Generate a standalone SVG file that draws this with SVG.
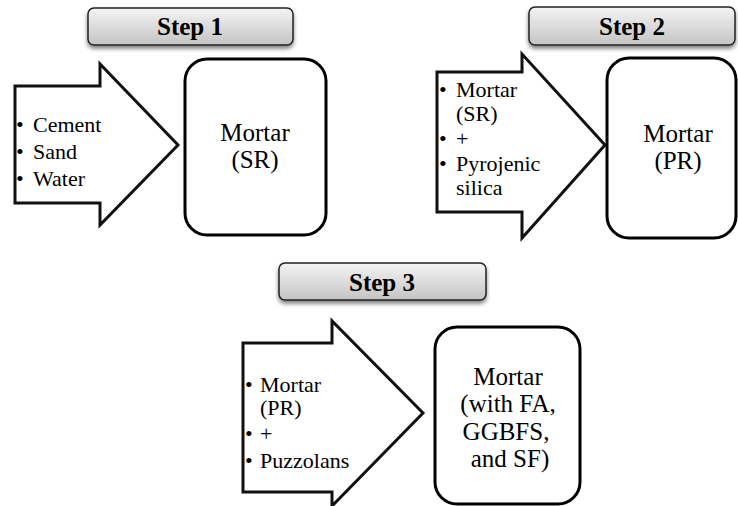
<svg xmlns="http://www.w3.org/2000/svg" id="d" width="738" height="506" viewBox="0 0 738 506" font-family="Liberation Serif, serif">
<defs>
<linearGradient id="g" x1="0" y1="0" x2="0" y2="1">
<stop offset="0" stop-color="#f4f4f4"/>
<stop offset="1" stop-color="#c4c4c4"/>
</linearGradient>
<filter id="sh" x="-10%" y="-30%" width="120%" height="180%">
<feGaussianBlur in="SourceAlpha" stdDeviation="2"/>
<feOffset dx="0" dy="3"/>
<feComponentTransfer><feFuncA type="linear" slope="0.5"/></feComponentTransfer>
<feMerge><feMergeNode/><feMergeNode in="SourceGraphic"/></feMerge>
</filter>
</defs>
<style>
svg#d g text, svg#d text, text { font-family: 'Liberation Serif', 'Times New Roman', serif !important; }
.step{fill:url(#g);stroke:#222;stroke-width:1.5;filter:url(#sh)}
.arr{fill:#fff;stroke:#111;stroke-width:3}
.box{fill:#fff;stroke:#000;stroke-width:3}
.st{font-weight:bold;font-size:25px;text-anchor:middle}
.t{font-size:22px}
.bt{font-size:25px;text-anchor:middle}
</style>
<rect width="738" height="506" fill="#fff"/>
<g id="step1"><rect class="step" x="88" y="8" width="205" height="37" rx="6"/><text class="st" font-family="Liberation Serif" x="190" y="35">Step 1</text></g>
<g id="step2"><rect class="step" x="529" y="7" width="206" height="38" rx="6"/><text class="st" font-family="Liberation Serif" x="632" y="35">Step 2</text></g>
<g id="step3"><rect class="step" x="279" y="263" width="207" height="37" rx="6"/><text class="st" font-family="Liberation Serif" x="382" y="291">Step 3</text></g>
<g id="connectors">
<path class="arr" d="M15,86 L100,86 L100,64 L178,145 L100,225 L100,203 L15,203 Z"/>
<path class="arr" d="M437,72 L522,72 L522,54 L605,145 L522,238 L522,212 L437,212 Z"/>
<path class="arr" d="M243,343 L332,343 L332,321 L423,413 L332,506 L332,492 L243,492 Z"/>
</g>
<g id="in1">
<text class="t" font-family="Liberation Serif" x="16" y="132">•</text><text class="t" font-family="Liberation Serif" x="33" y="132">Cement</text>
<text class="t" font-family="Liberation Serif" x="16" y="159">•</text><text class="t" font-family="Liberation Serif" x="33" y="159">Sand</text>
<text class="t" font-family="Liberation Serif" x="16" y="186">•</text><text class="t" font-family="Liberation Serif" x="33" y="186">Water</text>
</g>
<g id="in2">
<text class="t" font-family="Liberation Serif" x="439" y="97">•</text><text class="t" font-family="Liberation Serif" x="456" y="97">Mortar</text>
<text class="t" font-family="Liberation Serif" x="456" y="121">(SR)</text>
<text class="t" font-family="Liberation Serif" x="439" y="146">•</text><text class="t" font-family="Liberation Serif" x="456" y="146">+</text>
<text class="t" font-family="Liberation Serif" x="439" y="171">•</text><text class="t" font-family="Liberation Serif" x="456" y="171">Pyrojenic</text>
<text class="t" font-family="Liberation Serif" x="456" y="195">silica</text>
</g>
<g id="in3">
<text class="t" font-family="Liberation Serif" x="245" y="392">•</text><text class="t" font-family="Liberation Serif" x="260" y="392">Mortar</text>
<text class="t" font-family="Liberation Serif" x="260" y="415">(PR)</text>
<text class="t" font-family="Liberation Serif" x="245" y="441">•</text><text class="t" font-family="Liberation Serif" x="260" y="441">+</text>
<text class="t" font-family="Liberation Serif" x="245" y="468">•</text><text class="t" font-family="Liberation Serif" x="260" y="468">Puzzolans</text>
</g>
<g id="box1"><rect class="box" x="185" y="59" width="141" height="176" rx="22"/>
<text class="bt" font-family="Liberation Serif" x="255" y="141">Mortar</text><text class="bt" font-family="Liberation Serif" x="255" y="168">(SR)</text></g>
<g id="box2"><rect class="box" x="607" y="58" width="129" height="180" rx="22"/>
<text class="bt" font-family="Liberation Serif" x="678" y="142">Mortar</text><text class="bt" font-family="Liberation Serif" x="678" y="169">(PR)</text></g>
<g id="box3"><rect class="box" x="435" y="327" width="145" height="177" rx="22"/>
<text class="bt" font-family="Liberation Serif" x="508" y="385">Mortar</text><text class="bt" font-family="Liberation Serif" x="508" y="412">(with FA,</text>
<text class="bt" font-family="Liberation Serif" x="506" y="440">GGBFS,</text><text class="bt" font-family="Liberation Serif" x="510" y="467">and SF)</text></g>
</svg>
